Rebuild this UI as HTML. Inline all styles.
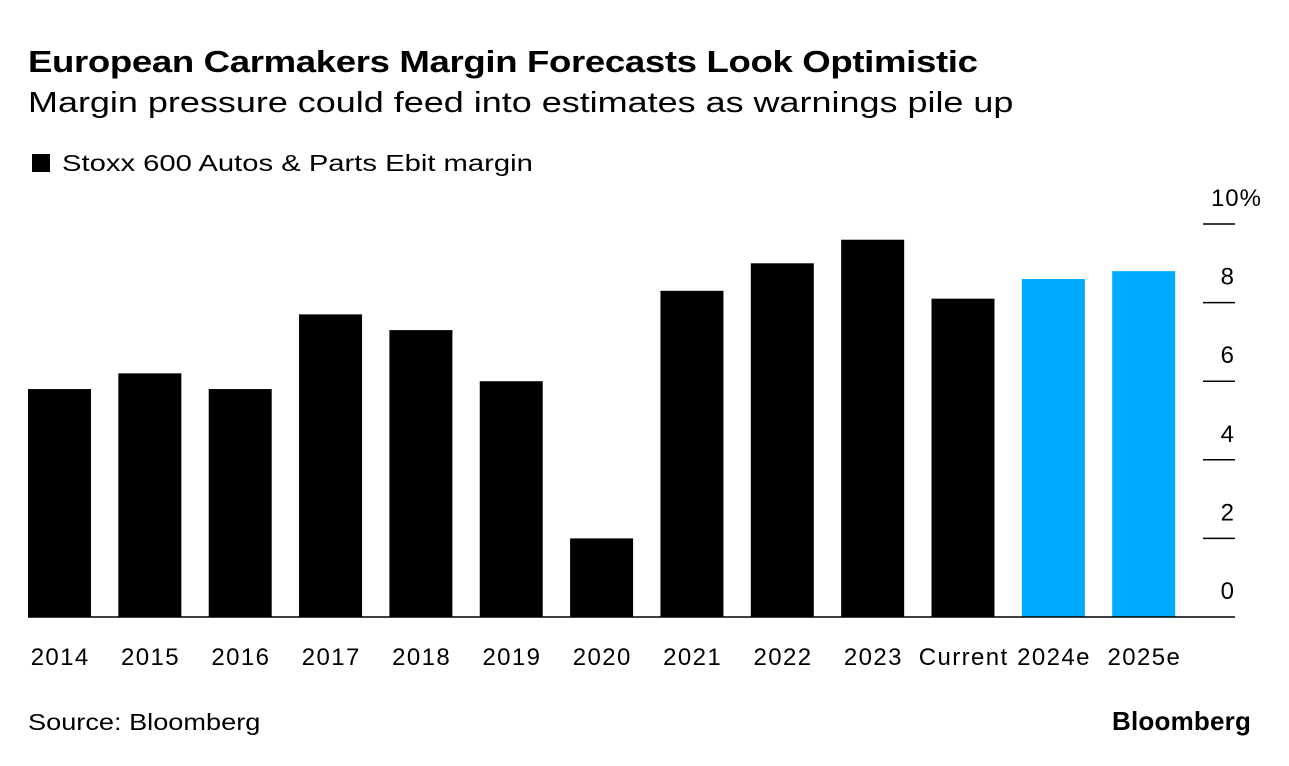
<!DOCTYPE html>
<html><head><meta charset="utf-8"><style>
body{margin:0;background:#fff;font-family:"Liberation Sans",sans-serif;}
#wrap{position:relative;width:1289px;height:766px;overflow:hidden;}
.t{position:absolute;white-space:nowrap;color:#000;transform-origin:0 0;}
</style></head><body>
<div id="wrap">
<div class="t" style="left:28px;top:44px;font-size:31px;font-weight:bold;letter-spacing:-0.3px;transform:scaleX(1.18)">European Carmakers Margin Forecasts Look Optimistic</div>
<div class="t" style="left:28px;top:87px;font-size:29px;transform:scaleX(1.24)">Margin pressure could feed into estimates as warnings pile up</div>
<div class="t" style="left:32px;top:150px;font-size:23px"><span style="display:inline-block;width:18px;height:18px;background:#000;margin-right:12px;vertical-align:-1px"></span><span style="display:inline-block;transform:scaleX(1.27);transform-origin:0 0">Stoxx 600 Autos &amp; Parts Ebit margin</span></div>
<svg id="chart" width="1289" height="766" style="position:absolute;left:0;top:0"></svg>
<div class="t" style="left:28px;top:709px;font-size:23px;transform:scaleX(1.18)">Source: Bloomberg</div>
<div class="t" style="left:1112px;top:706px;font-size:26px;font-weight:bold;letter-spacing:0.2px">Bloomberg</div>
</div>
<script>
const categories=["2014","2015","2016","2017","2018","2019","2020","2021","2022","2023","Current","2024e","2025e"];
const values=[5.8,6.2,5.8,7.7,7.3,6.0,2.0,8.3,9.0,9.6,8.1,8.6,8.8];
const estimates=[false,false,false,false,false,false,false,false,false,false,false,true,true];
const yTicks=[0,2,4,6,8,10];
const yTickLabels=["0","2","4","6","8","10%"];
const NS="http://www.w3.org/2000/svg";
const svg=document.getElementById('chart');
const y0=617,pxPerUnit=39.3;
const y=v=>y0-v*pxPerUnit;
const x=i=>28+i*90.35;
const bw=63;
function mk(tag,attrs){const e=document.createElementNS(NS,tag);for(const k in attrs)e.setAttribute(k,attrs[k]);svg.appendChild(e);return e;}
yTicks.forEach((t,i)=>{
  if(t>0){const l=mk('line',{x1:1203,x2:1235,y1:y(t),y2:y(t),stroke:'#000','stroke-width':1.5});
  
  }
  const tx=mk('text',{x:t===10?1262:1235,y:y(t)-18,'text-anchor':'end','font-size':24,'letter-spacing':1,'font-family':'Liberation Sans, sans-serif'});
  tx.textContent=yTickLabels[i];
  
  
});
values.forEach((v,i)=>{
  const r=mk('rect',{x:x(i),y:y(v),width:bw,height:y0-y(v),fill:estimates[i]?'#00aaff':'#000'});
  
  
  const tx=mk('text',{x:x(i)+bw/2+0.7,y:665,'text-anchor':'middle','font-size':24,'letter-spacing':1.4,'font-family':'Liberation Sans, sans-serif'});
  tx.textContent=categories[i];
  
  
});
const b=mk('line',{x1:28,x2:1235,y1:y0,y2:y0,stroke:'#000','stroke-width':1.5});


</script>
</body></html>
